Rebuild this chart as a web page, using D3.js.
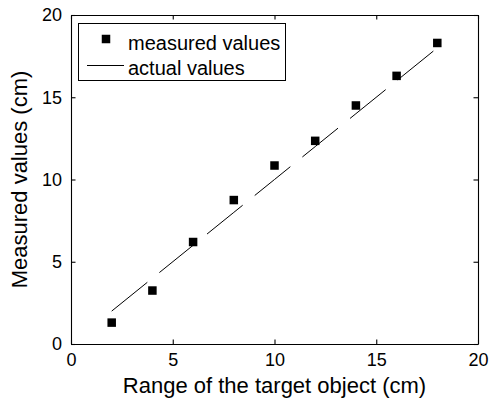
<!DOCTYPE html>
<html>
<head>
<meta charset="utf-8">
<script src="https://cdn.jsdelivr.net/npm/d3@7"></script>
<style>
  body { margin: 0; background: #fff; }
  svg text { font-family: "Liberation Sans", Arial, Helvetica, sans-serif; fill: #000; }
</style>
</head>
<body>
<div id="chart"></div>
<script>
// data
const rangeCm = [2, 4, 6, 8, 10, 12, 14, 16, 18];
const measuredCm = [1.3, 3.25, 6.2, 8.75, 10.85, 12.35, 14.5, 16.3, 18.3];
const actualCm = [2, 4, 6, 8, 10, 12, 14, 16, 18];
const xTicks = [0, 5, 10, 15, 20];
const yTicks = [0, 5, 10, 15, 20];
const legendLabels = ['measured values', 'actual values'];
const xLabel = 'Range of the target object (cm)';
const yLabel = 'Measured values (cm)';

const W = 491, H = 401;
const axLeft = 71, axRight = 478, axTop = 15, axBottom = 344;

const svg = d3.select('#chart').append('svg')
  .attr('width', W)
  .attr('height', H);

const x = d3.scaleLinear().domain([0, 20]).range([axLeft, axRight]);
const y = d3.scaleLinear().domain([0, 20]).range([axBottom, axTop]);

// axes, ticks pointing inward like matlab
const tick = 4.5;
svg.append('g')
  .attr('transform', 'translate(0,' + axBottom + ')')
  .call(d3.axisBottom(x).tickValues(xTicks).tickSizeInner(-tick).tickSizeOuter(0).tickPadding(9))
  .call(g => g.selectAll('text').style('font-size', '18px'));
svg.append('g')
  .attr('transform', 'translate(' + axLeft + ',0)')
  .call(d3.axisLeft(y).tickValues(yTicks).tickSizeInner(-tick).tickSizeOuter(0).tickPadding(9))
  .call(g => g.selectAll('text').style('font-size', '18px'));
svg.append('g')
  .attr('transform', 'translate(0,' + axTop + ')')
  .call(d3.axisTop(x).tickValues(xTicks).tickSizeInner(-tick).tickSizeOuter(0).tickFormat(''));
svg.append('g')
  .attr('transform', 'translate(' + axRight + ',0)')
  .call(d3.axisRight(y).tickValues(yTicks).tickSizeInner(-tick).tickSizeOuter(0).tickFormat(''));
svg.selectAll('.domain, .tick line').attr('stroke', '#000').attr('stroke-width', 1.1);

// actual values line (long dashes)
const line = d3.line()
  .x((d, i) => x(rangeCm[i]))
  .y(d => y(d));
svg.append('path')
  .datum(actualCm)
  .attr('fill', 'none')
  .attr('stroke', '#000')
  .attr('stroke-width', 1)
  .attr('stroke-dasharray', '45.8,15.5')
  .attr('d', line);

// measured points
const sq = 8.5;
svg.append('g').selectAll('rect')
  .data(measuredCm)
  .join('rect')
  .attr('x', (d, i) => x(rangeCm[i]) - sq / 2)
  .attr('y', d => y(d) - sq / 2)
  .attr('width', sq)
  .attr('height', sq)
  .attr('fill', '#000');

// axis labels
svg.append('text')
  .attr('x', (axLeft + axRight) / 2)
  .attr('y', 393)
  .attr('text-anchor', 'middle')
  .style('font-size', '22px')
  .text(xLabel);
svg.append('text')
  .attr('transform', 'translate(27,' + (axTop + axBottom) / 2 + ') rotate(-90)')
  .attr('text-anchor', 'middle')
  .style('font-size', '22px')
  .text(yLabel);

// legend
const leg = svg.append('g');
leg.append('rect')
  .attr('x', 78.5).attr('y', 23.5)
  .attr('width', 207).attr('height', 57)
  .attr('fill', '#fff').attr('stroke', '#000').attr('stroke-width', 1);
leg.append('rect')
  .attr('x', 106 - sq / 2).attr('y', 39 - sq / 2)
  .attr('width', sq).attr('height', sq)
  .attr('fill', '#000');
leg.append('line')
  .attr('x1', 87).attr('x2', 124)
  .attr('y1', 65.5).attr('y2', 65.5)
  .attr('stroke', '#000').attr('stroke-width', 1);
leg.selectAll('text')
  .data(legendLabels)
  .join('text')
  .attr('x', 128)
  .attr('y', (d, i) => 50 + i * 25)
  .style('font-size', '20px')
  .text(d => d);
</script>
</body>
</html>
